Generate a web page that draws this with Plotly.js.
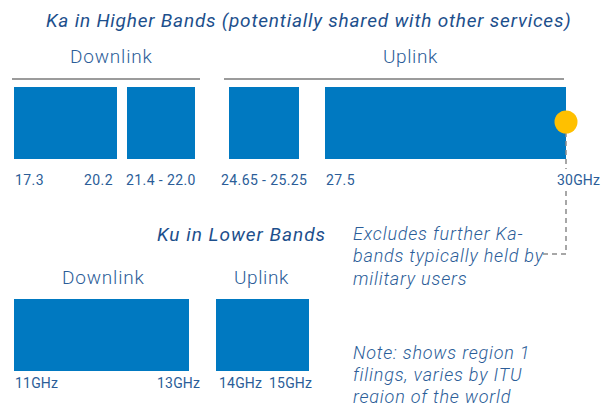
<!DOCTYPE html>
<html>
<head>
<meta charset="utf-8">
<script src="https://cdn.plot.ly/plotly-3.0.1.min.js"></script>
<style>html,body{margin:0;padding:0;background:#fff;}#chart{width:611px;height:403px;}</style>
</head>
<body>
<div id="chart"></div>
<script>
// ---- Data (schematic band layout, not to scale) ----
const kaBandNames   = ['Ka DL 17.3-20.2', 'Ka DL 21.4-22.0', 'Ka UL 24.65-25.25', 'Ka UL 27.5-30'];
const kaBandStart   = [14, 127, 229, 325];
const kaBandEnd     = [117, 195, 299, 566];
const kuBandNames   = ['Ku DL 11-13', 'Ku UL 14-15'];
const kuBandStart   = [14, 216];
const kuBandEnd     = [189, 309];
const kaGroupNames  = ['Downlink', 'Uplink'];
const kaGroupStart  = [12, 224];
const kaGroupEnd    = [200, 564];
const kuGroupNames  = ['Downlink', 'Uplink'];
const kaTickLabels  = ['17.3', '20.2', '21.4 - 22.0', '24.65 - 25.25', '27.5', '30GHz'];
const kuTickLabels  = ['11GHz', '13GHz', '14GHz', '15GHz'];
const noteExcludes  = ['Excludes further Ka-', 'bands typically held by', 'military users'];
const noteRegion    = ['Note: shows region 1', 'filings, varies by ITU', 'region of the world'];
const titleKa = 'Ka in Higher Bands (potentially shared with other services)';
const titleKu = 'Ku in Lower Bands';

// ---- Styles ----
const BLUE = '#0079c1';
const TXT = '#2b5d98';
const TTL = '#1d4f8c';
const GRAY = '#9b9b9b';
const FONT = 'Roboto, Arial, sans-serif';

const kaY = 123, kaH = 72;
const kuY = 335, kuH = 72;

const traces = [];
traces.push({
  type: 'bar', orientation: 'h', name: 'Ka',
  y: kaBandNames.map(() => kaY), base: kaBandStart,
  x: kaBandEnd.map((e, i) => e - kaBandStart[i]),
  width: kaH, marker: {color: BLUE, line: {width: 0}},
  text: kaBandNames, hoverinfo: 'text', textposition: 'none'
});
traces.push({
  type: 'bar', orientation: 'h', name: 'Ku',
  y: kuBandNames.map(() => kuY), base: kuBandStart,
  x: kuBandEnd.map((e, i) => e - kuBandStart[i]),
  width: kuH, marker: {color: BLUE, line: {width: 0}},
  text: kuBandNames, hoverinfo: 'text', textposition: 'none'
});
// group bracket lines
kaGroupNames.forEach((g, i) => {
  traces.push({type: 'scatter', mode: 'lines', x: [kaGroupStart[i], kaGroupEnd[i]], y: [79, 79],
    line: {color: GRAY, width: 2.2}, hoverinfo: 'skip'});
});
// dashed leader from 30GHz marker
const edge = kaBandEnd[3];
traces.push({type: 'scatter', mode: 'lines', x: [edge, edge], y: [132, 169],
  line: {color: '#8a8a8a', width: 1.5, dash: '5px,4px'}, hoverinfo: 'skip'});
traces.push({type: 'scatter', mode: 'lines', x: [edge, edge, 540], y: [191, 254, 254],
  line: {color: '#8a8a8a', width: 1.5, dash: '5px,4px'}, hoverinfo: 'skip'});
// marker
traces.push({type: 'scatter', mode: 'markers', x: [edge], y: [122],
  marker: {color: '#ffc000', size: 23, line: {width: 0}}, hoverinfo: 'skip'});

const ann = [];
function sp(t, px) { return '<span style="letter-spacing:' + px + 'px">' + t + '</span>'; }
function A(text, x, y, font, opts) {
  ann.push(Object.assign({text: text, x: x, y: y, xref: 'x', yref: 'y', showarrow: false,
    xanchor: 'center', yanchor: 'middle', font: font}, opts || {}));
}
const grpFont  = {family: FONT, size: 19, color: TXT, weight: 300};
const ttlFont  = {family: FONT, size: 19, color: TTL, style: 'italic'};
const tickFont = {family: FONT, size: 14, color: TXT};
const noteFont = {family: FONT, size: 18, color: TXT, style: 'italic', weight: 300};

A(sp(titleKa, 0.8), 308, 20, ttlFont);
A(sp(kaGroupNames[0], 0.8), 111, 56, grpFont);
A(sp(kaGroupNames[1], 0.6), 410, 56, grpFont);
A(sp(kaTickLabels[0], 0.4), kaBandStart[0] - 1, 180, tickFont, {xanchor: 'left'});
A(sp(kaTickLabels[1], 0.4), kaBandEnd[0] - 2, 180, tickFont, {xanchor: 'right'});
A(sp(kaTickLabels[2], 0.4), (kaBandStart[1] + kaBandEnd[1]) / 2, 180, tickFont);
A(sp(kaTickLabels[3], 0.4), (kaBandStart[2] + kaBandEnd[2]) / 2, 180, tickFont);
A(sp(kaTickLabels[4], 0.4), kaBandStart[3] - 1, 180, tickFont, {xanchor: 'left'});
A(sp(kaTickLabels[5], 0.2), kaBandEnd[3] - 11, 180, tickFont, {xanchor: 'left'});
A(sp(titleKu, 1.0), 241, 234, ttlFont);
A(sp(kuGroupNames[0], 0.8), 103, 277, grpFont);
A(sp(kuGroupNames[1], 0.6), 261, 277, grpFont);
A(sp(kuTickLabels[0], 0.2), kuBandStart[0] - 1, 383, tickFont, {xanchor: 'left'});
A(sp(kuTickLabels[1], 0.2), kuBandEnd[0] + 13, 383, tickFont, {xanchor: 'right'});
A(sp(kuTickLabels[2], 0.2), kuBandStart[1] + 1, 383, tickFont, {xanchor: 'left'});
A(sp(kuTickLabels[3], 0.2), kuBandEnd[1] + 5, 383, tickFont, {xanchor: 'right'});
noteExcludes.forEach((t, i) => A(sp(t, 0.8), 351, 233 + i * 22.5, noteFont, {xanchor: 'left'}));
noteRegion.forEach((t, i) => A(sp(t, 0.8), 351, 352 + i * 22, noteFont, {xanchor: 'left'}));

const layout = {
  width: 611, height: 403,
  margin: {l: 0, r: 0, t: 0, b: 0},
  paper_bgcolor: '#ffffff', plot_bgcolor: '#ffffff',
  showlegend: false,
  barmode: 'overlay',
  xaxis: {range: [0, 611], visible: false, fixedrange: true},
  yaxis: {range: [403, 0], visible: false, fixedrange: true},
  annotations: ann
};
Plotly.newPlot('chart', traces, layout, {displayModeBar: false, staticPlot: true});
</script>
</body>
</html>
